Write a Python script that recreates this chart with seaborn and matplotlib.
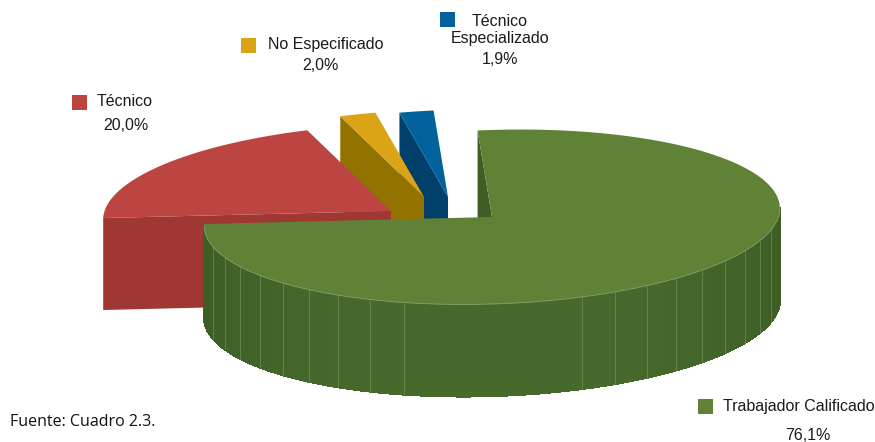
import numpy as np
import matplotlib
matplotlib.use("Agg")
import matplotlib.pyplot as plt
from matplotlib.patches import Polygon, Rectangle
from matplotlib.colors import to_rgb
import seaborn as sns

# ---- data ----
categories = ["Trabajador Calificado", "Técnico", "No Especificado", "Técnico Especializado"]
values = [76.1, 20.0, 2.0, 1.9]
label_texts = ["Trabajador Calificado", "Técnico", "No Especificado", "Técnico\nEspecializado"]
source_text = "Fuente: Cuadro 2.3."

# ---- styles ----
top_colors = ["#5f8237", "#bd4541", "#dba416", "#01629c"]
side_colors = ["#476a2c", "#9f3833", "#937200", "#01406b"]
side_dark = ["#3e5e26", "#9f3833", "#937200", "#01406b"]
radial_colors = ["#3f5e26", "#9f3833", "#937200", "#01406b"]
centers = [(492, 217), (391, 211), (424, 197), (448, 197)]   # exploded slice centres (px)
A, B, DEPTH = 288.0, 87.0, 92.0
ROT = np.deg2rad(1.9)
START = 92.3
key_pos = [(698, 399), (72, 95), (241, 38), (440, 12)]
name_pos = [(723, 407, "left"), (97, 102, "left"), (268, 45, "left"), (500, 30, "center")]
pct_pos = [(808, 435), (126, 126), (320, 65), (500, 59)]

sns.set_theme(style="white")
plt.rcParams["font.family"] = ["Liberation Sans", "DejaVu Sans"]

fig = plt.figure(figsize=(8.75, 4.42), dpi=100)
ax = fig.add_axes([0, 0, 1, 1])
ax.set_xlim(0, 875)
ax.set_ylim(442, 0)
ax.axis("off")


def pt(c, th_deg, dz=0.0):
    th = np.deg2rad(th_deg)
    x = c[0] + A * np.cos(th) * np.cos(ROT) - B * np.sin(th) * np.sin(ROT)
    y = c[1] - A * np.cos(th) * np.sin(ROT) - B * np.sin(th) * np.cos(ROT) + dz
    return np.column_stack([np.atleast_1d(x), np.atleast_1d(y)])


bounds = []
hi = START
for v in values:
    lo = hi - 360.0 * v / 100.0
    bounds.append((lo, hi))
    hi = lo


def front_ranges(lo, hi):
    out = []
    for k in (-720, -360, 0, 360):
        a, b = max(lo, -180 + k), min(hi, 0 + k)
        if b > a:
            out.append((a, b))
    return out


for i in [3, 2, 1, 0]:
    lo, hi = bounds[i]
    c = centers[i]
    cpt = np.array([c])
    cbot = np.array([[c[0], c[1] + DEPTH]])
    if np.cos(np.deg2rad(hi)) < 0:
        p, pb = pt(c, hi), pt(c, hi, DEPTH)
        ax.add_patch(Polygon(np.vstack([cpt, p, pb, cbot]), closed=True,
                             facecolor=radial_colors[i], edgecolor="none"))
    if np.cos(np.deg2rad(lo)) > 0:
        p, pb = pt(c, lo), pt(c, lo, DEPTH)
        ax.add_patch(Polygon(np.vstack([cpt, p, pb, cbot]), closed=True,
                             facecolor=radial_colors[i], edgecolor="none"))
    for a, b in front_ranges(lo, hi):
        c1, c2 = np.array(to_rgb(side_colors[i])), np.array(to_rgb(side_dark[i]))
        edges = np.linspace(a, b, 91)
        for t0, t1 in zip(edges[:-1], edges[1:]):
            th = np.linspace(t0, t1, 6)
            w = min(1.0, abs(np.cos(np.deg2rad(0.5 * (t0 + t1)))) ** 3)
            col = c1 * (1 - w) + c2 * w
            ax.add_patch(Polygon(np.vstack([pt(c, th), pt(c, th, DEPTH)[::-1]]), closed=True,
                                 facecolor=col, edgecolor=col, lw=0.8, antialiased=False))
        for f in np.arange(-166.0, -8.0, 7.2):
            if a < f < b and abs(f + 90) > 12:
                seg = np.vstack([pt(c, f), pt(c, f, DEPTH)])
                ax.plot(seg[:, 0], seg[:, 1], color="#86a06e", lw=0.5, alpha=0.7)
        topa = pt(c, np.linspace(a, b, 200))
        ax.plot(topa[:, 0], topa[:, 1], color="#a9bf92", lw=0.6, alpha=0.6)
    th = np.linspace(lo, hi, 300)
    ax.add_patch(Polygon(np.vstack([cpt, pt(c, th)]), closed=True,
                         facecolor=top_colors[i], edgecolor="none"))

for i in range(len(categories)):
    kx, ky = key_pos[i]
    ax.add_patch(Rectangle((kx, ky), 15, 15, facecolor=top_colors[i], edgecolor="none"))
    nx, ny, ha = name_pos[i]
    ax.text(nx, ny, label_texts[i], ha=ha, va="center", fontsize=11.5, color="#1a1a1a",
            linespacing=1.2)
    pct = f"{values[i]:.1f}".replace(".", ",") + "%"
    ax.text(pct_pos[i][0], pct_pos[i][1], pct, ha="center", va="center", fontsize=11.5,
            color="#1a1a1a")

ax.text(10, 422, source_text, ha="left", va="center", fontsize=11.5, color="#111111",
        family=["Open Sans", "DejaVu Sans"])

fig.savefig("out.png", dpi=100)
